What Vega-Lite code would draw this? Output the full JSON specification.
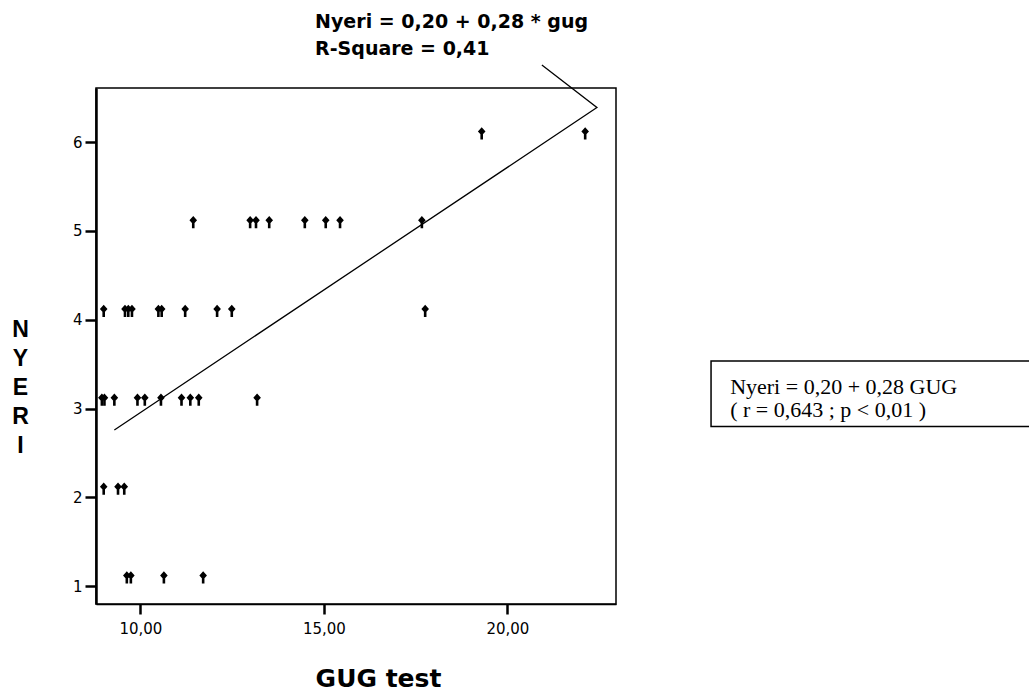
{
  "$schema": "https://vega.github.io/schema/vega-lite/v6.json",
  "width": 520,
  "height": 516,
  "autosize": {"type": "none"},
  "padding": {"left": 96, "top": 88, "right": 413, "bottom": 87},
  "background": "white",
  "config": {"view": {"stroke": "black", "strokeWidth": 1.5}, "font": "Liberation Sans"},
  "datasets": {
    "points": [
      {"gug": 19.30, "nyeri": 6}, {"gug": 22.12, "nyeri": 6},
      {"gug": 11.44, "nyeri": 5}, {"gug": 12.99, "nyeri": 5}, {"gug": 13.15, "nyeri": 5}, {"gug": 13.51, "nyeri": 5},
      {"gug": 14.48, "nyeri": 5}, {"gug": 15.05, "nyeri": 5}, {"gug": 15.44, "nyeri": 5}, {"gug": 17.67, "nyeri": 5},
      {"gug": 9.00, "nyeri": 4}, {"gug": 9.58, "nyeri": 4}, {"gug": 9.67, "nyeri": 4}, {"gug": 9.77, "nyeri": 4},
      {"gug": 10.49, "nyeri": 4}, {"gug": 10.58, "nyeri": 4}, {"gug": 11.22, "nyeri": 4}, {"gug": 12.09, "nyeri": 4},
      {"gug": 12.49, "nyeri": 4}, {"gug": 17.76, "nyeri": 4},
      {"gug": 8.95, "nyeri": 3}, {"gug": 9.02, "nyeri": 3}, {"gug": 9.29, "nyeri": 3}, {"gug": 9.92, "nyeri": 3},
      {"gug": 10.12, "nyeri": 3}, {"gug": 10.56, "nyeri": 3}, {"gug": 11.12, "nyeri": 3}, {"gug": 11.36, "nyeri": 3},
      {"gug": 11.59, "nyeri": 3}, {"gug": 13.18, "nyeri": 3},
      {"gug": 9.00, "nyeri": 2}, {"gug": 9.39, "nyeri": 2}, {"gug": 9.56, "nyeri": 2},
      {"gug": 9.63, "nyeri": 1}, {"gug": 9.74, "nyeri": 1}, {"gug": 10.64, "nyeri": 1}, {"gug": 11.71, "nyeri": 1}
    ],
    "fit": [
      {"seq": 1, "gug": 9.29, "nyeri": 2.76},
      {"seq": 2, "gug": 22.44, "nyeri": 6.39},
      {"seq": 3, "gug": 20.94, "nyeri": 6.87}
    ],
    "notes": [
      {"label": "Nyeri = 0,20 + 0,28 * gug", "gug": 14.76, "nyeri": 7.28},
      {"label": "R-Square = 0,41", "gug": 14.76, "nyeri": 6.98}
    ],
    "box": [
      {"gug": 25.55, "gug2": 34.5, "nyeri": 3.537, "nyeri2": 2.80}
    ],
    "boxtext": [
      {"label": "Nyeri  = 0,20 + 0,28 GUG", "gug": 26.07, "nyeri": 3.162},
      {"label": "( r = 0,643 ; p < 0,01 )", "gug": 26.07, "nyeri": 2.903}
    ]
  },
  "encoding": {
    "x": {
      "field": "gug",
      "type": "quantitative",
      "scale": {"domain": [8.79, 22.96], "nice": false, "zero": false},
      "axis": {
        "title": "GUG test",
        "values": [10, 15, 20],
        "labelExpr": "replace(format(datum.value, '.2f'), '.', ',')",
        "grid": false,
        "domain": true,
        "domainColor": "black",
        "domainWidth": 1.5,
        "tickColor": "black",
        "tickWidth": 2.5,
        "tickSize": 10,
        "labelFont": "DejaVu Sans",
        "labelFontSize": 15,
        "labelColor": "black",
        "labelPadding": 7,
        "titleFont": "DejaVu Sans",
        "titleFontSize": 25,
        "titleFontWeight": "bold",
        "titleColor": "black",
        "titleX": 282,
        "titleY": 62,
        "titleAlign": "center",
        "titleBaseline": "top"
      }
    },
    "y": {
      "field": "nyeri",
      "type": "quantitative",
      "scale": {"domain": [0.8, 6.61], "nice": false, "zero": false},
      "axis": {
        "title": ["N", "Y", "E", "R", "I"],
        "values": [1, 2, 3, 4, 5, 6],
        "format": "d",
        "grid": false,
        "domain": true,
        "domainColor": "black",
        "domainWidth": 2.5,
        "tickColor": "black",
        "tickWidth": 2.5,
        "tickSize": 11,
        "labelFont": "DejaVu Sans",
        "labelFontSize": 15,
        "labelColor": "black",
        "labelPadding": 3,
        "titleFont": "Liberation Sans",
        "titleFontSize": 23,
        "titleFontWeight": "bold",
        "titleColor": "black",
        "titleAngle": 0,
        "titleLineHeight": 29,
        "titleX": -76,
        "titleY": 230,
        "titleAlign": "center",
        "titleBaseline": "top"
      }
    }
  },
  "layer": [
    {
      "data": {"name": "points"},
      "mark": {
        "type": "point",
        "shape": "M0,-1.5L0.38,-1.08L0,-0.66L-0.38,-1.08Z M-0.13,-0.8L0.13,-0.8L0.13,-0.28L-0.13,-0.28Z",
        "size": 400,
        "filled": true,
        "color": "black",
        "opacity": 1,
        "strokeWidth": 0
      }
    },
    {
      "data": {"name": "fit"},
      "mark": {"type": "line", "color": "black", "strokeWidth": 1.3},
      "encoding": {"order": {"field": "seq", "type": "quantitative"}}
    },
    {
      "data": {"name": "notes"},
      "mark": {"type": "text", "align": "left", "baseline": "alphabetic", "font": "DejaVu Sans", "fontWeight": "bold", "fontSize": 19, "color": "black"},
      "encoding": {"text": {"field": "label"}}
    },
    {
      "data": {"name": "box"},
      "mark": {"type": "rect", "fill": "white", "stroke": "black", "strokeWidth": 1.5},
      "encoding": {"x2": {"field": "gug2"}, "y2": {"field": "nyeri2"}}
    },
    {
      "data": {"name": "boxtext"},
      "mark": {"type": "text", "align": "left", "baseline": "alphabetic", "font": "Liberation Serif", "fontSize": 22, "color": "black"},
      "encoding": {"text": {"field": "label"}}
    }
  ]
}
